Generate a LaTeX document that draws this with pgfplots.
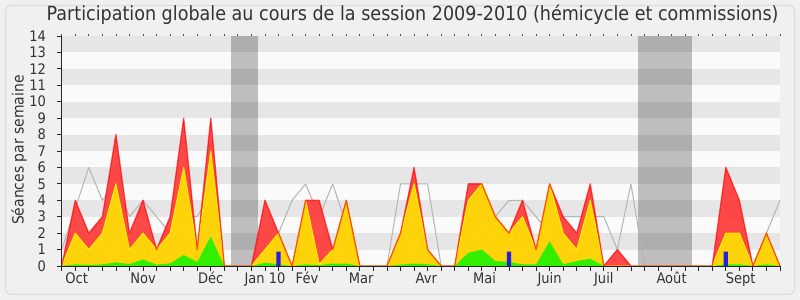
\documentclass[border=0pt]{standalone}
\usepackage{fontspec}
\setmainfont[FakeStretch=0.9]{DejaVu Sans}
\usepackage{pgfplots}
\pgfplotsset{compat=1.18}
\usepackage{pgfplotstable}
\definecolor{bgout}{HTML}{F0F0F0}
\definecolor{stripeD}{HTML}{E6E6E6}
\definecolor{stripeL}{HTML}{FAFAFA}
\definecolor{redF}{HTML}{FF3A3A}
\definecolor{redL}{HTML}{FF0000}
\definecolor{yelF}{HTML}{FFD30A}
\definecolor{yelL}{HTML}{FFF000}
\definecolor{grnF}{HTML}{33EE00}
\definecolor{bluF}{HTML}{2222DD}
\definecolor{grayL}{HTML}{B4B4B4}

\pgfplotstableread{
x red yellow green gray
0 0 0 0 1
1 4 2 0.1 3.5
2 2 1 0.06 6
3 3 2 0.1 4
4 8 5 0.22 5
5 2 1 0.12 3
6 4 2 0.4 4
7 1 1 0.08 3
8 3 2 0.16 2
9 9 6 0.67 3
10 1 1 0.25 3
11 9 7 1.8 4.5
12 0 0 0 0
13 0 0 0 0
14 0 0 0 0
15 4 1 0.2 1
16 2 2 0.1 2
17 0 0 0 4
18 4 4 0.1 5
19 4 0.1 0.05 3
20 1 1 0.15 5
21 4 4 0.15 2.5
22 0 0 0 0
23 0 0 0 0
24 0 0 0 0
25 2 2 0.08 5
26 6 5 0.15 5
27 1 1 0.1 5
28 0 0 0 0
29 0 0 0 0
30 5 4 0.8 4
31 5 5 1.0 4
32 3 3 0.3 3
33 2 2 0.25 4
34 4 3 0.1 4
35 1 1 0.1 3
36 5 5 1.5 2
37 3 2 0.1 3
38 2 1 0.3 3
39 5 4 0.45 3
40 0 0 0 3
41 1 0 0 1
42 0 0 0 5
43 0 0 0 0
44 0 0 0 0
45 0 0 0 0
46 0 0 0 0
47 0 0 0 0
48 0 0 0 0
49 6 2 0.1 0
50 4 2 0.1 0
51 0 0 0 0
52 2 2 0.1 2
53 0 0 0 4
}\data

\pgfplotstableread{
x q
16 0.87
33 0.87
49 0.87
}\quest

\begin{document}
\begin{tikzpicture}
\fill[bgout] (0,0) rectangle (800bp,300bp);
\draw[draw=white!86!black, line width=1bp, rounded corners=6bp] (5.5bp,5.5bp) rectangle (794.5bp,294.5bp);
\begin{axis}[
  at={(61.7bp,34bp)}, anchor=south west,
  scale only axis, width=718.3bp, height=230bp,
  xmin=0, xmax=53, ymin=0, ymax=14,
  axis x line*=bottom, axis y line*=left,
  axis line style={-, black!85, line width=0.9bp},
  axis background/.style={fill=stripeL},
  axis on top,
  clip=false,
  tick align=outside,
  xtick={0,...,53}, xticklabels={},
  major tick length=4.5bp,
  ytick={0,...,14},
  tick style={black!85, line width=0.8bp},
  /pgf/number format/assume math mode=true,
  yticklabel style={font=\fontsize{14.5bp}{16bp}\selectfont, anchor=east, inner sep=0pt, xshift=-11bp, text=black!80},
  extra x ticks={1.1,6,11,15,18.1,22.1,26.9,31.2,36,40,45,50.1},
  extra x tick labels={Oct,Nov,Déc,Jan 10,Fév,Mar,Avr,Mai,Juin,Juil,Août,Sept},
  extra x tick style={major tick length=0pt, xticklabel style={font=\fontsize{14.5bp}{16bp}\selectfont, anchor=base, inner sep=0pt, yshift=-17.3bp, text=black!80}},
  title={Participation globale au cours de la session 2009-2010 (hémicycle et commissions)},
  title style={at={(axis description cs:0.4884,1)}, anchor=base, yshift=10bp, inner sep=0pt, font=\fontsize{19.5bp}{22bp}\selectfont, text=black!80},
  ylabel={Séances par semaine},
  ylabel style={at={(axis description cs:-0.0594,0.504)}, anchor=center, inner sep=0pt, font=\fontsize{15.5bp}{18bp}\selectfont, text=black!80},
]
\fill[stripeD] (axis cs:0,1) rectangle (axis cs:53,2);
\fill[stripeD] (axis cs:0,3) rectangle (axis cs:53,4);
\fill[stripeD] (axis cs:0,5) rectangle (axis cs:53,6);
\fill[stripeD] (axis cs:0,7) rectangle (axis cs:53,8);
\fill[stripeD] (axis cs:0,9) rectangle (axis cs:53,10);
\fill[stripeD] (axis cs:0,11) rectangle (axis cs:53,12);
\fill[stripeD] (axis cs:0,13) rectangle (axis cs:53,14);
\fill[black, opacity=0.24] (axis cs:12.5,0) rectangle (axis cs:14.5,14);
\fill[black, opacity=0.24] (axis cs:42.5,0) rectangle (axis cs:46.5,14);
\addplot[grayL, line width=1bp, line join=round, mark=none] table[x=x,y=gray]{\data};
\addplot[fill=redF, draw=none, fill opacity=0.92, mark=none] table[x=x,y=red]{\data} \closedcycle;
\addplot[fill=yelF, draw=none, mark=none] table[x=x,y=yellow]{\data} \closedcycle;
\addplot[yelL, line width=1bp, line join=round, mark=none] table[x=x,y=yellow]{\data};
\addplot[fill=grnF, draw=none, mark=none] table[x=x,y=green]{\data} \closedcycle;
\addplot[redL, line width=1.3bp, line join=round, opacity=0.65, mark=none] table[x=x,y=red]{\data};
\addplot[ybar, bar width=4.3bp, fill=bluF, draw=none] table[x=x,y=q]{\quest};
\pgfplotsinvokeforeach{0,...,53}{\draw[black!70, line width=0.8bp] (axis cs:#1,14) -- ++(0,2bp);}
\end{axis}
\pgfresetboundingbox
\path (0,0) rectangle (800bp,300bp);
\end{tikzpicture}
\end{document}
